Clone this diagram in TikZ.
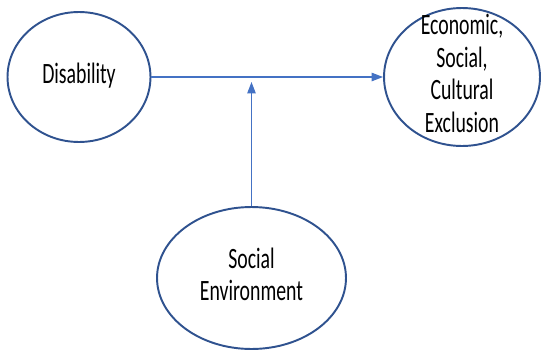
\documentclass[tikz,border=0pt]{standalone}
\usepackage{fontspec}
\setmainfont{Carlito}
\usepackage{graphicx}
\usetikzlibrary{shapes.geometric,arrows.meta}
\definecolor{rimblue}{RGB}{47,82,143}
\definecolor{lineblue}{RGB}{68,114,196}
% the reference text is squeezed sideways
\newcommand{\squeezed}[1]{\scalebox{0.67}[1]{\begin{tabular}{@{}c@{}}#1\end{tabular}}}
\begin{document}
\begin{tikzpicture}[x=0.02cm,y=-0.02cm,
    every node/.style={font=\fontsize{16.8}{18.5}\selectfont},
    bubble/.style={ellipse,draw=rimblue,line width=1.1pt,fill=white,inner sep=0pt},
    link/.style={draw=lineblue,line width=0.7pt,-{Triangle[length=6.5pt,width=4.8pt]}}]
  % page size in pixels of the reference
  \useasboundingbox (0,0) rectangle (541,352);
  %% the ellipses
  \node[bubble,minimum width=2.86cm,minimum height=2.6cm] (dis) at (79,77) {\squeezed{Disability}};
  \node[bubble,minimum width=3.12cm,minimum height=2.76cm] (excl) at (462,77) {};
  \node (excltext) at (462,77) {\squeezed{Economic,\\Social,\\Cultural\\Exclusion}};
  \node[bubble,minimum width=3.78cm,minimum height=2.84cm] (soc) at (251.5,278) {\squeezed{Social\\Environment}};
  %% the arrows
  \coordinate (tip) at (251.5,82);
  \draw[link] (dis) -- (excl);
  \draw[link] (soc) -- (tip);
\end{tikzpicture}
\end{document}
